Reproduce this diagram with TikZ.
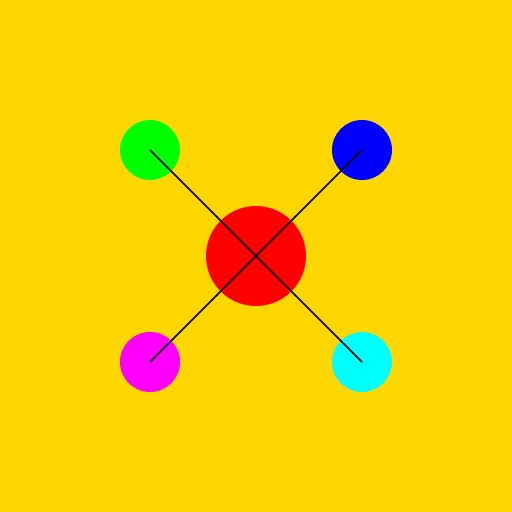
\documentclass[tikz,border=0pt]{standalone}
\begin{document}
\begin{tikzpicture}[x=1pt,y=-1pt,
  dot/.style={circle,inner sep=0pt,minimum size=60pt,draw=none},
  hub/.style={circle,inner sep=0pt,minimum size=100pt,draw=none,fill=red},
  link/.style={draw=black,line width=1.5pt}]
\fill[fill={rgb,255:red,255;green,215;blue,0}] (0,0) rectangle (512,512);
\useasboundingbox (0,0) rectangle (512,512);
\node[hub] (c) at (256,256) {};
\node[dot,fill={rgb,255:red,0;green,255;blue,0}] (g) at (150,150) {};
\node[dot,fill={rgb,255:red,0;green,0;blue,255}] (b) at (362,150) {};
\node[dot,fill={rgb,255:red,255;green,0;blue,255}] (m) at (150,362) {};
\node[dot,fill={rgb,255:red,0;green,255;blue,255}] (y) at (362,362) {};
\draw[link] (g.center) -- (y.center);
\draw[link] (b.center) -- (m.center);
\end{tikzpicture}
\end{document}
